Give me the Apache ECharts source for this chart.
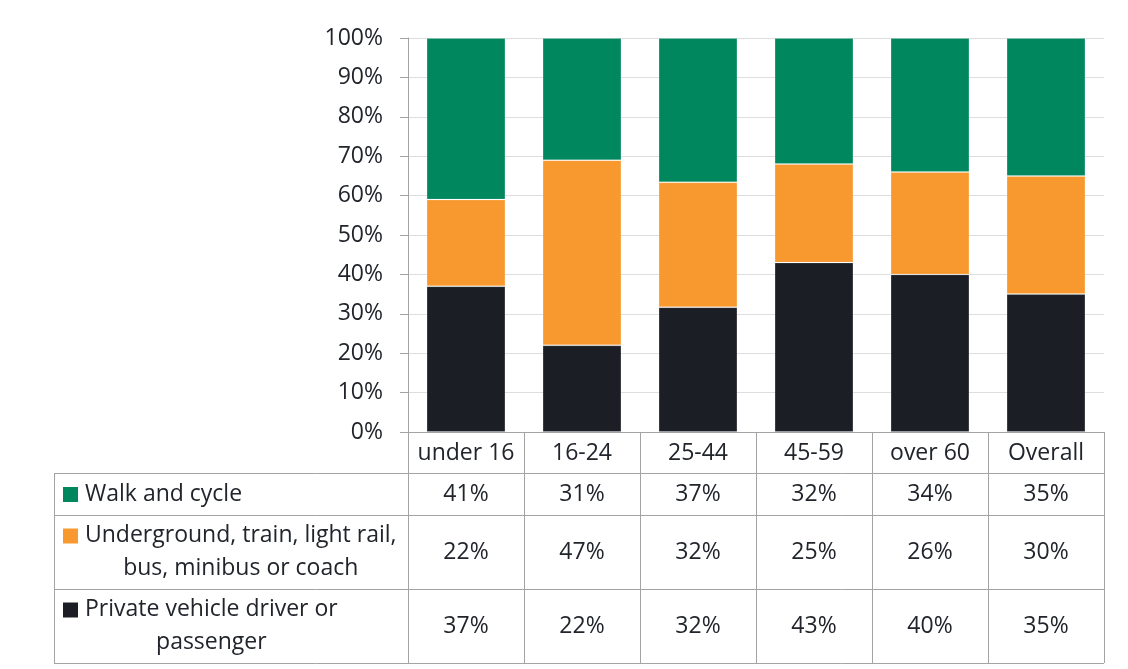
<!DOCTYPE html>
<html><head><meta charset="utf-8">
<script src="https://cdn.jsdelivr.net/npm/echarts@6/dist/echarts.min.js"></script>
<style>html,body{margin:0;padding:0;background:#fff}#c{width:1128px;height:669px}</style>
</head><body><div id="c"></div>
<script>
const categories = ['under 16', '16-24', '25-44', '45-59', 'over 60', 'Overall'];
const walkCycle = [41, 31, 37, 32, 34, 35];
const publicTransport = [22, 47, 32, 25, 26, 30];
const privateVehicle = [37, 22, 32, 43, 40, 35];
const yTicks = [0, 10, 20, 30, 40, 50, 60, 70, 80, 90, 100];
const seriesNames = ['Walk and cycle', 'Underground, train, light rail,\nbus, minibus or coach', 'Private vehicle driver or\npassenger'];

const colors = { walk: '#00875e', pt: '#f7992f', priv: '#1b1e24' };
const FONT = '"Open Sans", sans-serif';
const FS = 23;
const TXT = '#21252b';
const BORDER = '#a3a3a3';

const totals = categories.map((_, i) => walkCycle[i] + publicTransport[i] + privateVehicle[i]);
const pct = arr => arr.map((v, i) => v / totals[i] * 100);

const chart = echarts.init(document.getElementById('c'));
const grid = { left: 408, top: 38, width: 696, bottom: 237 };

chart.setOption({
  animation: false,
  grid: grid,
  xAxis: {
    type: 'category', data: categories,
    axisLine: { lineStyle: { color: BORDER, width: 1 } },
    axisTick: { show: true, interval: 0, length: 231, lineStyle: { color: BORDER, width: 1 } },
    axisLabel: { interval: 0, hideOverlap: false, fontSize: FS, fontFamily: FONT, color: TXT, margin: 21, verticalAlign: 'middle' }
  },
  yAxis: {
    type: 'value', min: 0, max: 100, interval: 10,
    axisLine: { show: true, lineStyle: { color: BORDER } },
    axisTick: { show: true, length: 8, lineStyle: { color: BORDER } },
    splitLine: { lineStyle: { color: '#dedede', width: 1 } },
    axisLabel: { formatter: '{value}%', fontSize: FS, fontFamily: FONT, color: TXT, margin: 25 }
  },
  series: [
    { name: seriesNames[2], type: 'bar', stack: 's', data: pct(privateVehicle), barWidth: '68%',
      itemStyle: { color: colors.priv, borderColor: 'rgba(255,255,255,0.15)', borderWidth: 1 } },
    { name: seriesNames[1], type: 'bar', stack: 's', data: pct(publicTransport),
      itemStyle: { color: colors.pt, borderColor: 'rgba(255,255,255,0.15)', borderWidth: 1 } },
    { name: seriesNames[0], type: 'bar', stack: 's', data: pct(walkCycle),
      itemStyle: { color: colors.walk, borderColor: 'rgba(255,255,255,0.15)', borderWidth: 1 } }
  ]
});

// Data table below the axis
const yBase = chart.convertToPixel({ yAxisIndex: 0 }, 0);
const tableLeft = 54;
const tableRight = grid.left + grid.width;
const rowH = [41, 42, 74, 74];
const rowTops = [yBase];
for (let i = 0; i < rowH.length; i++) rowTops.push(rowTops[i] + rowH[i]);
const rows = [
  { name: seriesNames[0], color: colors.walk, vals: walkCycle },
  { name: seriesNames[1], color: colors.pt, vals: publicTransport },
  { name: seriesNames[2], color: colors.priv, vals: privateVehicle }
];
const ctx = document.createElement('canvas').getContext('2d');
ctx.font = FS + 'px ' + FONT;

const g = [];
for (let r = 1; r < rowTops.length; r++) {
  g.push({ type: 'line', shape: { x1: tableLeft, y1: rowTops[r] + 0.5, x2: tableRight, y2: rowTops[r] + 0.5 },
    style: { stroke: BORDER, lineWidth: 1 } });
}
g.push({ type: 'line', shape: { x1: tableLeft + 0.5, y1: rowTops[1], x2: tableLeft + 0.5, y2: rowTops[4] },
  style: { stroke: BORDER, lineWidth: 1 } });

rows.forEach((row, r) => {
  const top = rowTops[r + 1], h = rowH[r + 1], cy = top + h / 2;
  const lines = row.name.split('\n');
  const firstLineY = cy - (lines.length - 1) * 16.5;
  g.push({ type: 'rect', shape: { x: 63, y: firstLineY - 7, width: 15, height: 15 }, style: { fill: row.color } });
  const w = Math.max(...lines.map(l => ctx.measureText(l).width));
  g.push({ type: 'text', x: 85 + w / 2, y: cy,
    style: { text: row.name, fontSize: FS, fontFamily: FONT, fill: TXT, align: 'center', verticalAlign: 'middle', lineHeight: 33 } });
  row.vals.forEach((v, i) => {
    const cx = chart.convertToPixel({ xAxisIndex: 0 }, i);
    g.push({ type: 'text', x: cx, y: cy,
      style: { text: v + '%', fontSize: FS, fontFamily: FONT, fill: TXT, align: 'center', verticalAlign: 'middle' } });
  });
});
chart.setOption({ graphic: g });
</script></body></html>
